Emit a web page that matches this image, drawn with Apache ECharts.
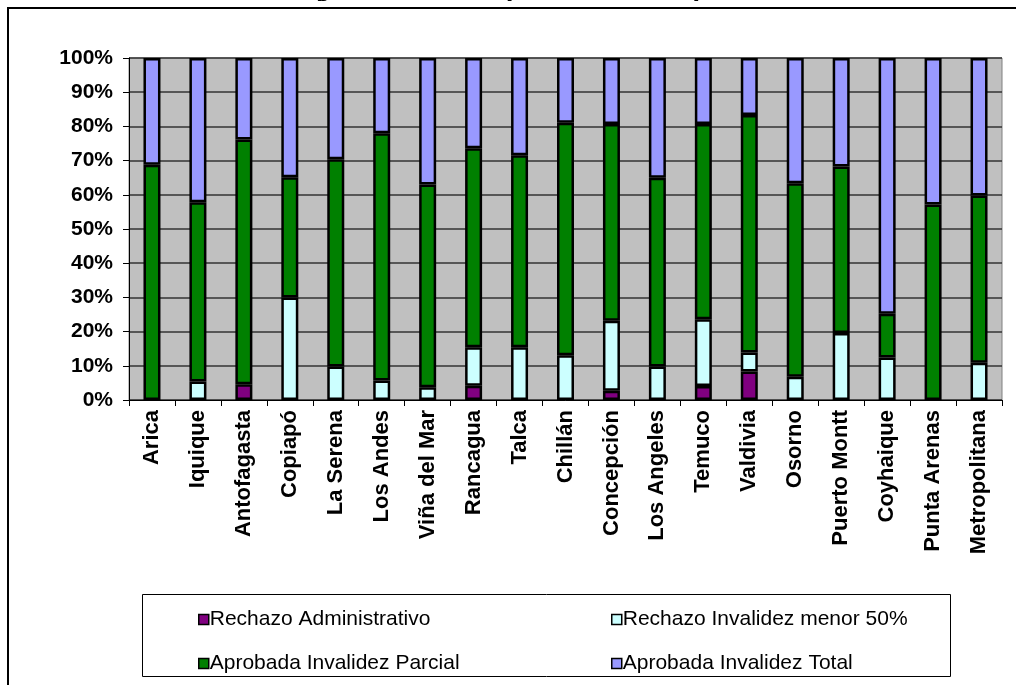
<!DOCTYPE html>
<html>
<head>
<meta charset="utf-8">
<script src="https://cdn.jsdelivr.net/npm/echarts@6/dist/echarts.min.js"></script>
<style>
html,body{margin:0;padding:0;background:#fff;}
#chart{width:1016px;height:685px;}
</style>
</head>
<body>
<div id="chart"></div>
<script>
const titleText = '(julio 2010 - septiembre 2010)';
const categories = ['Arica','Iquique','Antofagasta','Copiapó','La Serena','Los Andes','Viña del Mar','Rancagua','Talca','Chillán','Concepción','Los Angeles','Temuco','Valdivia','Osorno','Puerto Montt','Coyhaique','Punta Arenas','Metropolitana'];
const seriesNames = ['Rechazo Administrativo','Rechazo Invalidez menor 50%','Aprobada Invalidez Parcial','Aprobada Invalidez Total'];
const rechazoAdministrativo = [0,0,4.6,0,0,0,0,4.2,0,0,2.7,0,4.1,8.3,0,0,0,0,0];
const rechazoInvalidez = [0,5.4,0,30.0,9.8,5.7,3.7,11.2,15.4,13.1,20.5,9.8,19.5,5.6,6.8,19.6,12.4,0,10.9];
const aprobadaParcial = [68.8,52.4,71.6,35.1,60.6,72.3,59.3,58.2,56.2,68.0,57.5,55.2,57.1,69.4,56.6,48.7,12.8,57.2,48.9];
const aprobadaTotal = [31.2,42.2,23.8,34.9,29.6,22.0,37.0,26.4,28.4,18.9,19.3,35.0,19.3,16.7,36.6,31.7,74.8,42.8,40.2];
const yTicks = [0,10,20,30,40,50,60,70,80,90,100];

const colors = ['#800080','#CCFFFF','#008000','#9999FF'];
const values = [rechazoAdministrativo, rechazoInvalidez, aprobadaParcial, aprobadaTotal];
const FONT = "'Liberation Sans', Arial, sans-serif";

const chart = echarts.init(document.getElementById('chart'), null, {renderer:'canvas'});
const series = seriesNames.map((n,i)=>({
  name:n, type:'bar', stack:'total', barWidth:17,
  data: values[i].map(v => v === 0 ? '-' : v),
  itemStyle:{color:colors[i], borderColor:'#000', borderWidth:2.5},
  emphasis:{disabled:true}
}));
const legendCommon = {
  orient:'vertical', icon:'rect', itemWidth:10, itemHeight:10, itemGap:23,
  itemStyle:{borderColor:'#000', borderWidth:1.5},
  textStyle:{fontFamily:FONT, fontSize:21, color:'#000', lineHeight:20, padding:[0,0,0,-4]},
  selectedMode:false
};
chart.setOption({
  animation:false,
  backgroundColor:'#fff',
  color:colors,
  graphic:[
    {type:'rect', shape:{x:8,y:8,width:1100,height:1000}, style:{fill:'none', stroke:'#000', lineWidth:2}, z:-1},
    {type:'rect', shape:{x:142.5,y:594.5,width:808,height:82}, style:{fill:'#fff', stroke:'#000', lineWidth:1}, z:-1},
    {type:'text', left:'center', top:-27, style:{text:titleText, font:"bold 28px 'Liberation Sans', Arial, sans-serif", fill:'#000'}}
  ],
  grid:{left:129, right:14, top:58, bottom:285, show:true, backgroundColor:'#C0C0C0', borderColor:'#808080', borderWidth:1, containLabel:false},
  legend:[
    Object.assign({left:193, top:604, data:[seriesNames[0], seriesNames[2]]}, legendCommon),
    Object.assign({left:606, top:604, data:[seriesNames[1], seriesNames[3]]}, legendCommon)
  ],
  xAxis:{
    type:'category', data:categories, boundaryGap:true,
    axisLine:{show:true, lineStyle:{color:'#000', width:1}},
    axisTick:{show:true, alignWithLabel:false, length:6, inside:false, lineStyle:{color:'#000'}},
    axisLabel:{rotate:90, margin:10, interval:0, fontFamily:FONT, fontSize:22, fontWeight:'bold', color:'#000'},
    splitLine:{show:false}
  },
  yAxis:{
    type:'value', min:0, max:100, interval:10,
    axisLine:{show:true, lineStyle:{color:'#000', width:1}},
    axisTick:{show:true, length:6, lineStyle:{color:'#000'}},
    axisLabel:{formatter:'{value}%', margin:16, fontFamily:FONT, fontSize:21, fontWeight:'bold', color:'#000'},
    splitLine:{show:true, lineStyle:{color:'#333', width:1.5}}
  },
  series:series
});
</script>
</body>
</html>
